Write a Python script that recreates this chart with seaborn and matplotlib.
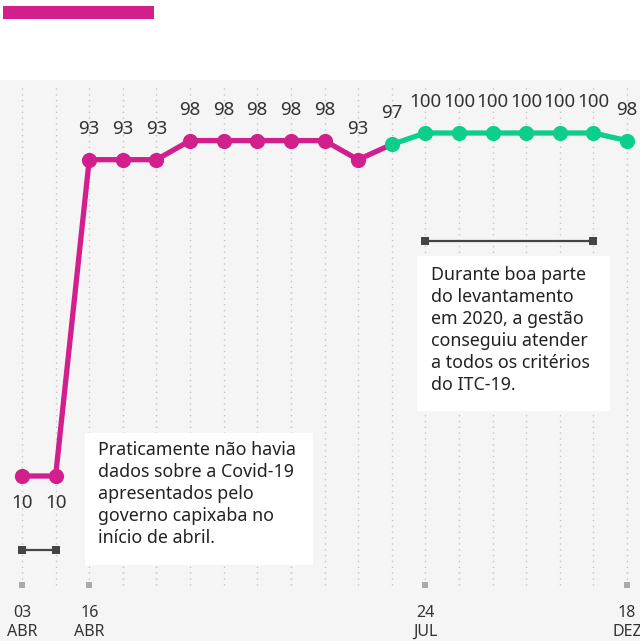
import matplotlib
matplotlib.use("Agg")
import matplotlib.pyplot as plt
import matplotlib.patches as mpatches
import seaborn as sns
import pandas as pd
import numpy as np

# ---- data ----
values = [10, 10, 93, 93, 93, 98, 98, 98, 98, 98, 93, 97, 100, 100, 100, 100, 100, 100, 98]
split_index = 11  # from here on: green series
tick_positions = [0, 2, 12, 18]
tick_days = ["03", "16", "24", "18"]
tick_months = ["ABR", "ABR", "JUL", "DEZ"]
note_left = "Praticamente não havia\ndados sobre a Covid-19\napresentados pelo\ngoverno capixaba no\ninício de abril."
note_right = "Durante boa parte\ndo levantamento\nem 2020, a gestão\nconseguiu atender\na todos os critérios\ndo ITC-19."
bracket_left = (0, 1)
bracket_right = (12, 17)

MAGENTA = "#d11f8c"
GREEN = "#0dcf8b"
TXT = "#333333"

sns.set_style("white")
plt.rcParams['font.family'] = ['Noto Sans', 'DejaVu Sans']

W, H = 640, 641
fig = plt.figure(figsize=(W / 100, H / 100), dpi=100)
fig.patch.set_facecolor("white")

def fx(x):
    return x / W
def fy(y):
    return 1 - y / H

top_px = 80
ax = fig.add_axes([0, 0, 1, (H - top_px) / H])
ax.set_facecolor("#f5f5f5")
for s in ax.spines.values():
    s.set_visible(False)

# pixel mapping
x0_px, step_px = 22, (627 - 22) / 18
y10_px, ppu = 476, (476 - 133) / 90.0
ax.set_xlim(-x0_px / step_px, 18 + (W - 627) / step_px)
ax.set_ylim(10 - (H - y10_px) / ppu, 10 + (y10_px - top_px) / ppu)

def vy(ypx):
    return 10 + (y10_px - ypx) / ppu

idx = np.arange(len(values))
df = pd.DataFrame({"i": idx, "v": values})

# grid
ax.vlines(idx, vy(585), vy(86), colors="#c4c4c4", linestyles=(0, (1, 3.2)), linewidth=1, zorder=1)

dfa = df[df.i <= split_index]
dfb = df[df.i >= split_index]
sns.lineplot(data=dfa, x="i", y="v", color=MAGENTA, linewidth=3.8, ax=ax, zorder=3)
sns.lineplot(data=dfb, x="i", y="v", color=GREEN, linewidth=3.8, ax=ax, zorder=3)
ax.scatter(dfa.i[dfa.i < split_index], dfa.v[dfa.i < split_index], s=120, color=MAGENTA, zorder=4, linewidths=0)
ax.scatter(dfb.i, dfb.v, s=120, color=GREEN, zorder=4, linewidths=0)
ax.set_xlabel("")
ax.set_ylabel("")
ax.set_xticks([])
ax.set_yticks([])

# value labels
for i, v in zip(idx, values):
    if v < 50:
        ax.text(i, v - 27 / ppu, str(v), ha="center", va="center", fontsize=13.5, color=TXT, zorder=5)
    else:
        ax.text(i, v + 31 / ppu, str(v), ha="center", va="center", fontsize=13.5, color=TXT, zorder=5)

# tick marks and labels
ax.scatter(tick_positions, [vy(585)] * len(tick_positions), marker="s", s=18, color="#aaaaaa", zorder=2, linewidths=0)
for p, d, m in zip(tick_positions, tick_days, tick_months):
    ax.text(p, vy(613), d, ha="center", va="center", fontsize=11.5, color=TXT)
    ax.text(p, vy(632), m, ha="center", va="center", fontsize=11.5, color=TXT)

# brackets
for (a, b), ypx in [(bracket_left, 550), (bracket_right, 241)]:
    ax.plot([a, b], [vy(ypx), vy(ypx)], color="#444444", linewidth=1.6, zorder=3)
    ax.scatter([a, b], [vy(ypx), vy(ypx)], marker="s", s=40, color="#444444", zorder=3, linewidths=0)

# note boxes
for (x1, y1, x2, y2), tx, ty, txt in [((85, 433, 313, 565), 98, 441, note_left),
                                       ((417, 256, 610, 411), 431, 266, note_right)]:
    fig.patches.append(mpatches.Rectangle((fx(x1), fy(y2)), fx(x2 - x1), (y2 - y1) / H,
                                          transform=fig.transFigure, facecolor="white",
                                          edgecolor="none", zorder=6))
    fig.text(fx(tx), fy(ty), txt, ha="left", va="top", fontsize=12.8, color="#222222",
             linespacing=1.29, zorder=7)

# top accent bar
fig.patches.append(mpatches.Rectangle((fx(3), fy(19)), fx(151), 13 / H, transform=fig.transFigure,
                                      facecolor=MAGENTA, edgecolor="none"))

fig.savefig("out.png", dpi=100, facecolor="white")
